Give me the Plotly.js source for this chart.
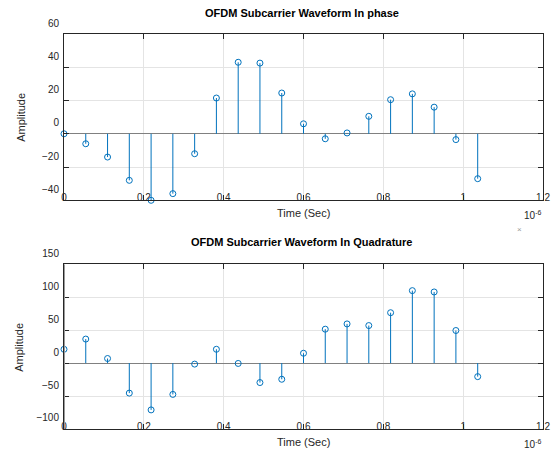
<!DOCTYPE html>
<html><head><meta charset="utf-8">
<script src="https://cdn.plot.ly/plotly-3.0.1.min.js"></script>
<style>html,body{margin:0;padding:0;background:#fff}#chart{width:554px;height:452px}</style>
</head><body><div id="chart"></div>
<script>
// Time axis in units of 1e-6 s (shown by the "10^-6" exponent label)
const timeMicroSec = [0, 0.0545, 0.1091, 0.1636, 0.2182, 0.2727, 0.3273, 0.3818, 0.4364, 0.4909,
                      0.5455, 0.6, 0.6545, 0.7091, 0.7636, 0.8182, 0.8727, 0.9273, 0.9818, 1.0364];
const inPhase    = [0, -6, -14, -28, -40, -36, -12, 21.5, 43, 42.5,
                    24.5, 6, -3, 0.5, 10.5, 20.5, 24, 16, -3.5, -27];
const quadrature = [21, 36.5, 7, -45.5, -71, -47.5, -1.5, 21, -0.5, -29.5,
                    -24.5, 15, 51.5, 59.5, 57, 76.5, 110, 108, 49.5, -20.5];
const xTickVals = [0, 0.2, 0.4, 0.6, 0.8, 1, 1.2];
const yTopTicks = [-40, -20, 0, 20, 40, 60];
const yBotTicks = [-100, -50, 0, 50, 100, 150];
const titleTop = 'OFDM Subcarrier Waveform In phase';
const titleBot = 'OFDM Subcarrier Waveform In Quadrature';
const xLabel = 'Time (Sec)';
const yLabel = 'Amplitude';

const blue = '#0072BD';
const axCol = '#262626';
const font = 'Liberation Sans, Arial, Helvetica, sans-serif';

function stem(x, y, xa, ya) {
  return {
    type: 'scatter', mode: 'markers', x: x, y: y, xaxis: xa, yaxis: ya,
    marker: {symbol: 'circle-open', size: 6, color: blue, line: {width: 1, color: blue}},
    error_y: {type: 'data', symmetric: false,
      array: y.map(v => v < 0 ? -v : 0),
      arrayminus: y.map(v => v > 0 ? v : 0),
      color: blue, thickness: 1, width: 0},
    hoverinfo: 'x+y', showlegend: false, cliponaxis: false
  };
}

function xAxis(anchor) {
  return {anchor: anchor, domain: [0, 1], range: [0, 1.2], tickvals: xTickVals,
    ticks: 'inside', ticklen: 5, tickcolor: axCol, mirror: 'ticks', showline: true,
    linecolor: axCol, linewidth: 1, showgrid: true, gridcolor: '#e4e4e4', gridwidth: 1,
    zeroline: false, ticklabelstandoff: -12, automargin: false,
    tickfont: {family: font, size: 10, color: axCol}};
}
function yAxis(anchor, dom, rng, tv) {
  return {anchor: anchor, domain: dom, range: rng, tickvals: tv,
    ticks: 'inside', ticklen: 5, tickcolor: axCol, mirror: 'ticks', showline: true,
    linecolor: axCol, linewidth: 1, showgrid: true, gridcolor: '#e4e4e4', gridwidth: 1,
    zeroline: true, zerolinecolor: '#808080', zerolinewidth: 1,
    ticklabelshift: -11, ticklabelstandoff: 2, automargin: false,
    tickfont: {family: font, size: 10, color: axCol}};
}

const ann = (text, x, y, opts) => Object.assign({text: text, x: x, y: y, xref: 'paper', yref: 'paper',
  showarrow: false, xanchor: 'center', yanchor: 'middle', font: {family: font, size: 11, color: axCol}}, opts || {});

const layout = {
  width: 554, height: 452,
  margin: {l: 64, r: 11, t: 34, b: 23, pad: 0},
  paper_bgcolor: '#fff', plot_bgcolor: '#fff',
  xaxis: xAxis('y'),
  yaxis: yAxis('x', [0.579, 1], [-40, 60], yTopTicks),
  xaxis2: xAxis('y2'),
  yaxis2: yAxis('x2', [0, 0.417], [-100, 150], yBotTicks),
  shapes: [{type: 'line', xref: 'x2', yref: 'y2', x0: 0, x1: 0, y0: -100, y1: 150,
            line: {color: '#9a9a9a', width: 2}, layer: 'above'}],
  annotations: [
    ann('<b>' + titleTop + '</b>', 0.496, 1.053, {font: {family: font, size: 11, color: '#000'}}),
    ann('<b>' + titleBot + '</b>', 0.496, 0.473, {font: {family: font, size: 11, color: '#000'}}),
    ann(xLabel, 0.499, 0.5476),
    ann(xLabel, 0.499, -0.032),
    ann(yLabel, -0.090, 0.790, {textangle: -90}),
    ann(yLabel, -0.094, 0.208, {textangle: -90}),
    ann('10<sup>-6</sup>', 0.979, 0.5418, {font: {family: font, size: 10, color: axCol}}),
    ann('10<sup>-6</sup>', 0.979, -0.038, {font: {family: font, size: 10, color: axCol}}),
    ann('×', 0.950, 0.506, {font: {family: font, size: 8, color: '#999'}})
  ]
};

Plotly.newPlot('chart', [stem(timeMicroSec, inPhase, 'x', 'y'), stem(timeMicroSec, quadrature, 'x2', 'y2')],
  layout, {staticPlot: true, displayModeBar: false});
</script>
</body></html>
